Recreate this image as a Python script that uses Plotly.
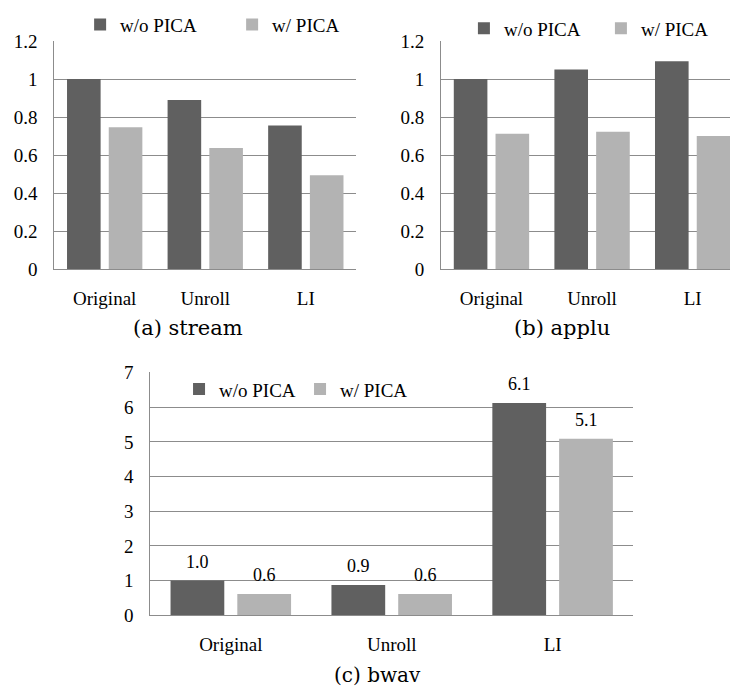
import plotly.graph_objects as go

# Normalised results for three benchmarks, without and with PICA
categories = ["Original", "Unroll", "LI"]
series_names = ["w/o PICA", "w/ PICA"]

stream_wo = [1.0, 0.89, 0.756]
stream_w = [0.746, 0.637, 0.493]

applu_wo = [1.0, 1.05, 1.094]
applu_w = [0.712, 0.722, 0.700]

bwav_wo = [1.0, 0.87, 6.12]
bwav_w = [0.61, 0.61, 5.09]

captions = ["(a) stream", "(b) applu", "(c) bwav"]

DARK = "#606060"
LIGHT = "#b3b3b3"
GRID = "#8c8c8c"
SERIF = "Liberation Serif"
W, H = 738, 700
BARGAP = 0.17
BARGROUPGAP = 0.195


def px_x(v):
    return v / W


def px_y(v):
    return 1 - v / H


fig = go.Figure()

panels = [
    ("x", "y", "legend", stream_wo, stream_w),
    ("x2", "y2", "legend2", applu_wo, applu_w),
    ("x3", "y3", "legend3", bwav_wo, bwav_w),
]
for xa, ya, lg, wo, w in panels:
    for name, vals, col in zip(series_names, [wo, w], [DARK, LIGHT]):
        fig.add_trace(go.Bar(
            x=categories, y=vals, name=name, marker=dict(color=col, line=dict(width=0)),
            xaxis=xa, yaxis=ya, legend=lg, hoverinfo="x+y+name",
        ))

# Value labels above the bwav bars
offset = (1 - BARGAP) / 4
for i in range(len(categories)):
    for vals, dx in [(bwav_wo, -offset), (bwav_w, offset)]:
        fig.add_annotation(
            x=i + dx, y=vals[i], xref="x3", yref="y3", text=f"{vals[i]:.1f}",
            showarrow=False, yanchor="middle", yshift=19,
            font=dict(family=SERIF, size=18, color="black"),
        )

# Sub-figure captions
for text, cx, cy in [(captions[0], 190, 328), (captions[1], 568, 328), (captions[2], 382, 686)]:
    fig.add_annotation(
        x=px_x(cx), y=px_y(cy), xref="paper", yref="paper", text=text,
        showarrow=False, xanchor="center", yanchor="middle",
        font=dict(family="DejaVu Serif", size=21 if cy < 400 else 20, color="black"),
    )

xax = dict(
    type="category", showline=True, linecolor=GRID, linewidth=1, showgrid=False,
    ticks="", ticklabelstandoff=12, tickfont=dict(family=SERIF, size=19, color="black"),
)
yax = dict(
    showline=True, linecolor=GRID, linewidth=1, showgrid=True, gridcolor=GRID,
    gridwidth=1, zeroline=False, ticks="", ticklabelstandoff=12,
    tickfont=dict(family=SERIF, size=19, color="black"),
)

legend_common = dict(
    orientation="h", xanchor="left", yanchor="middle", bgcolor="rgba(0,0,0,0)",
    font=dict(family=SERIF, size=19, color="black"), entrywidthmode="pixels",
    itemclick=False, itemdoubleclick=False,
)

fig.update_layout(
    width=W, height=H, margin=dict(l=0, r=0, t=0, b=0),
    paper_bgcolor="white", plot_bgcolor="white",
    barmode="group", bargap=BARGAP, bargroupgap=BARGROUPGAP,
    xaxis=dict(xax, domain=[px_x(55), px_x(360)], anchor="y", range=[-0.5, 2.5]),
    yaxis=dict(yax, domain=[px_y(267), px_y(32)], anchor="x", range=[0, 1.2], dtick=0.2),
    xaxis2=dict(xax, domain=[px_x(446), 1.0], anchor="y2", range=[-0.5, 2.371]),
    yaxis2=dict(yax, domain=[px_y(267), px_y(32)], anchor="x2", range=[0, 1.2], dtick=0.2),
    xaxis3=dict(xax, domain=[px_x(152), px_x(640)], anchor="y3", range=[-0.5, 2.5]),
    yaxis3=dict(yax, domain=[px_y(624), px_y(373.7)], anchor="x3", range=[0, 7], dtick=1),
    legend=dict(legend_common, x=px_x(81), y=px_y(15), entrywidth=107),
    legend2=dict(legend_common, x=px_x(469), y=px_y(19), entrywidth=92),
    legend3=dict(legend_common, x=px_x(181), y=px_y(391), entrywidth=76),
    showlegend=True,
)

fig.write_html("out.html")
